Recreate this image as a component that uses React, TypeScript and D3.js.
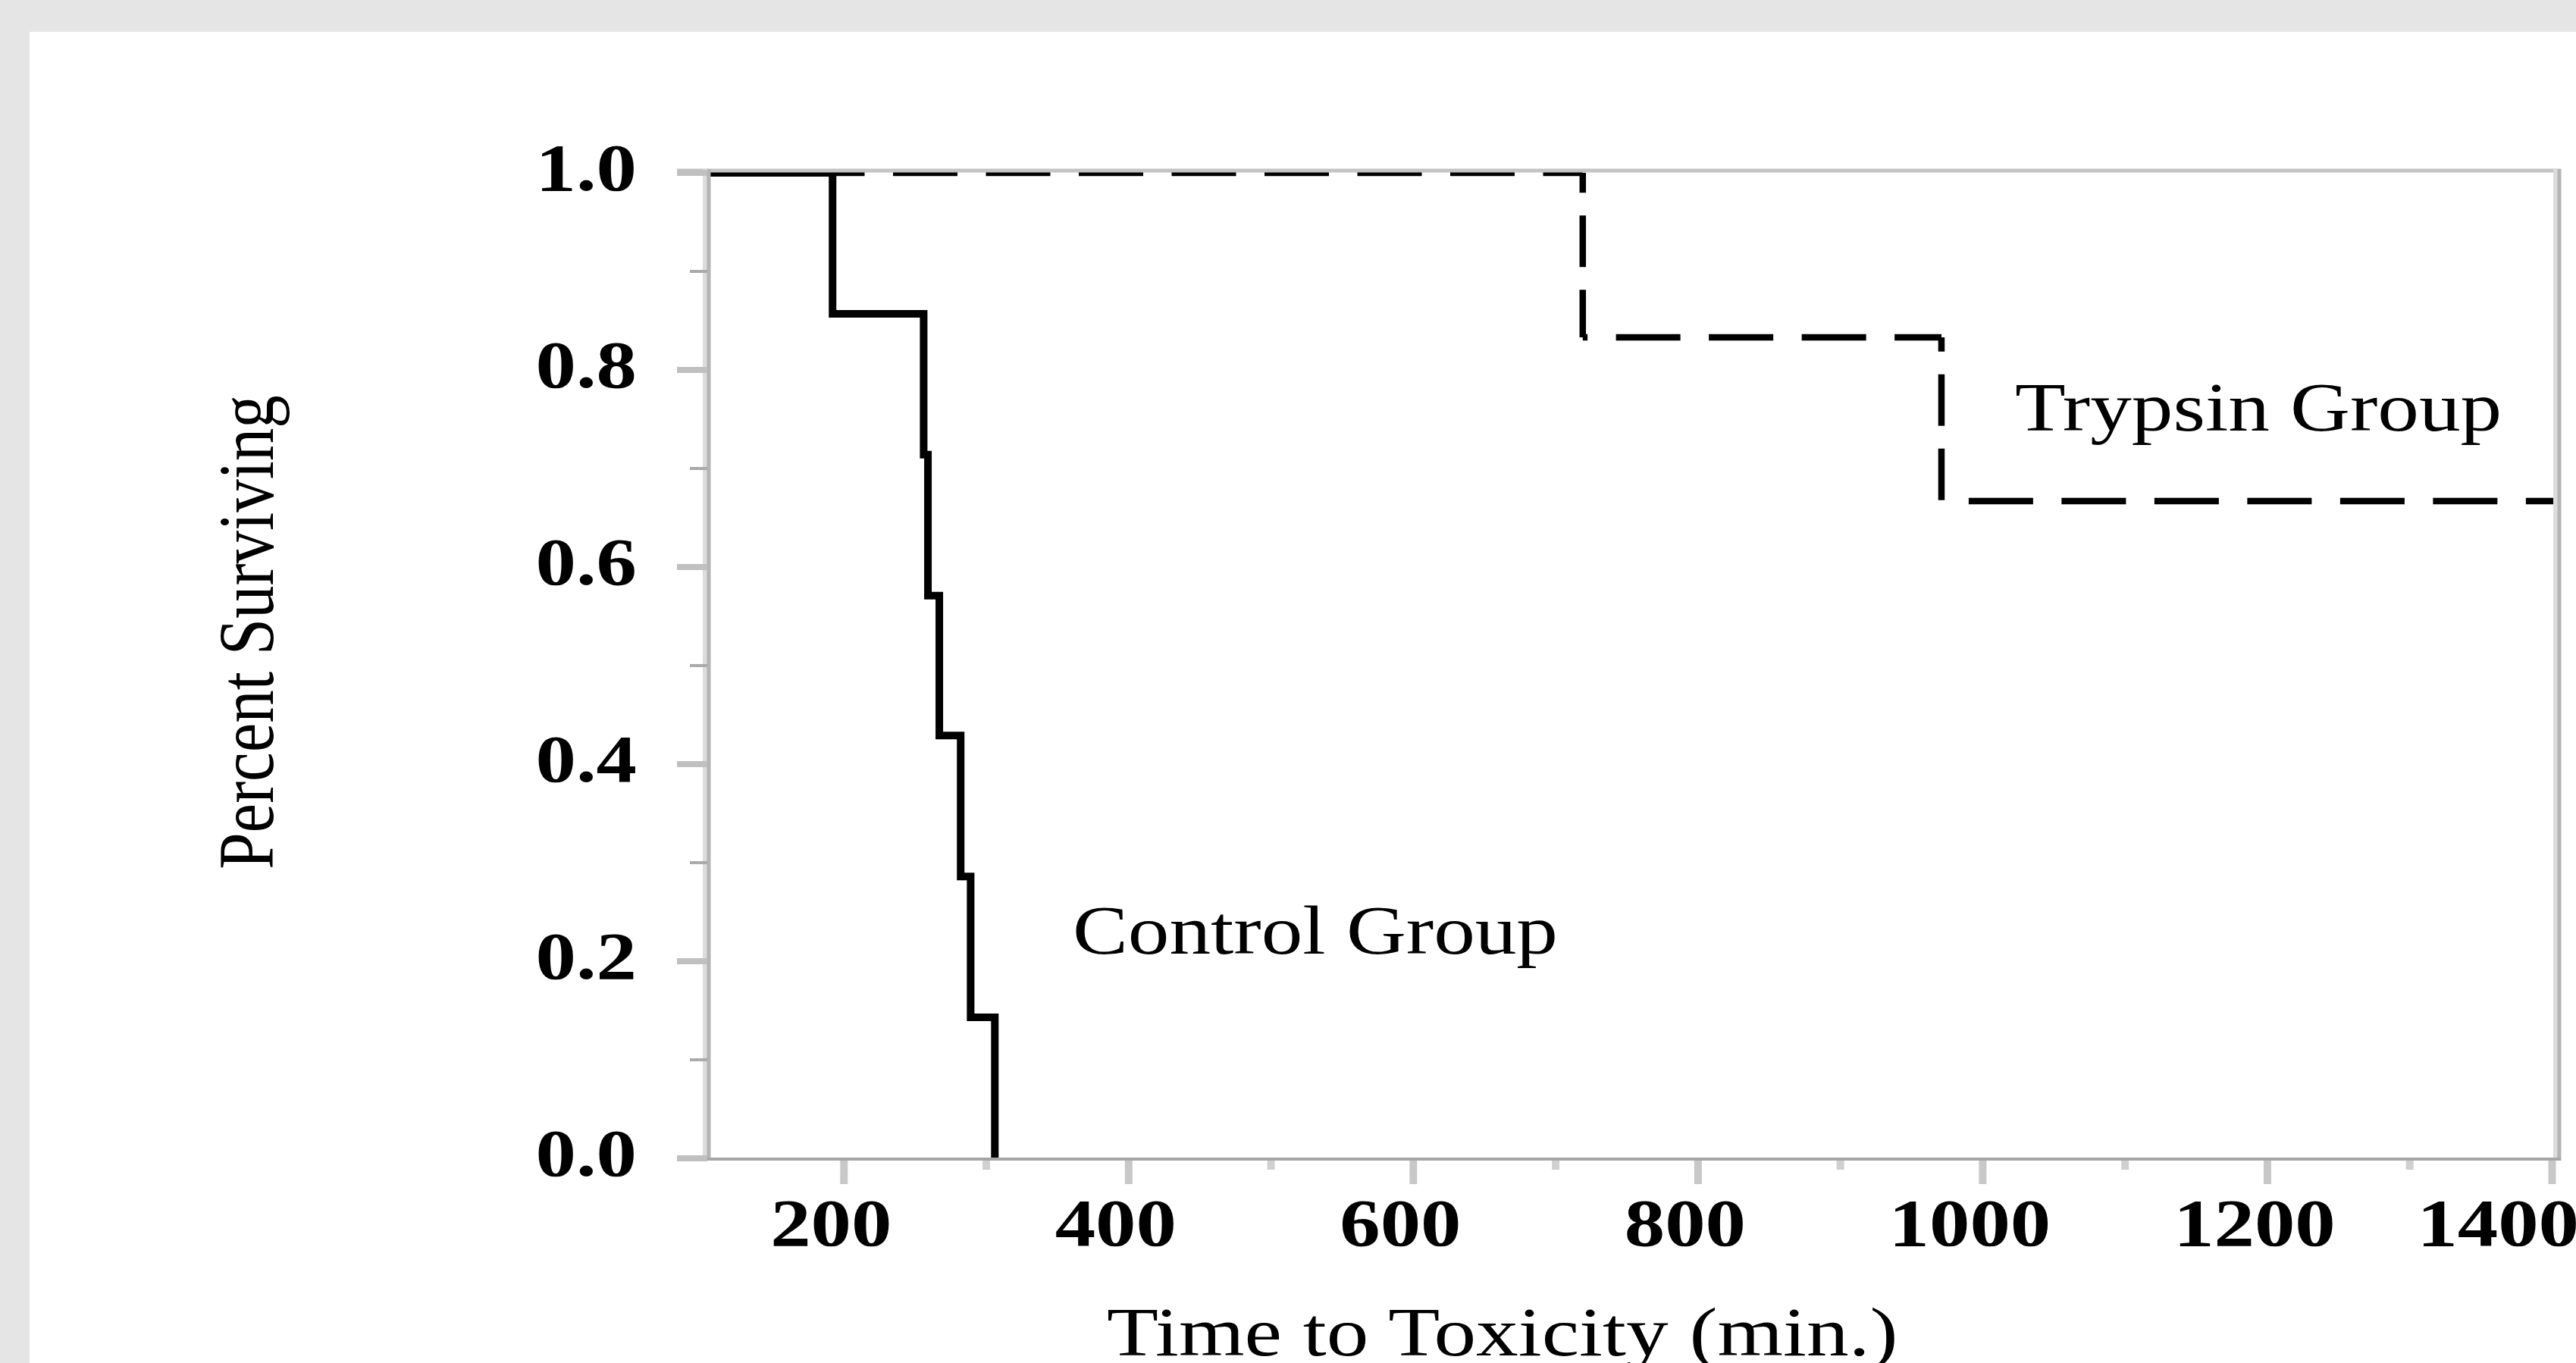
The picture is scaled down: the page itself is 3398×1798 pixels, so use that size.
import React, { useEffect } from "react";
import * as d3 from "d3";

// Kaplan-Meier style step data
const controlTime = [104, 192, 256, 259, 267, 282, 289, 306];
const controlSurv = [1.0, 0.857, 0.714, 0.571, 0.429, 0.286, 0.143, 0.0];

const trypsinTime = [104, 719, 971, 1404];
const trypsinSurv = [1.0, 0.833, 0.667, 0.667];

const xMajor = [200, 400, 600, 800, 1000, 1200, 1400];
const xMinor = [300, 500, 700, 900, 1100, 1300];
const yMajor = [0.0, 0.2, 0.4, 0.6, 0.8, 1.0];
const yMinor = [0.1, 0.3, 0.5, 0.7, 0.9];

const xTitle = "Time to Toxicity (min.)";
const yTitle = "Percent Surviving";
const controlLabel = "Control Group";
const trypsinLabel = "Trypsin Group";

const W = 3398;
const H = 1798;
const margin = { left: 933, right: 3374, top: 228, bottom: 1528 };
const SX = 1.2; // the source picture is stretched sideways a bit
const FONT = "'Liberation Serif', 'Times New Roman', serif";

export default function App() {
  useEffect(() => {
    document.body.style.margin = "0";
  }, []);

  const x = d3.scaleLinear().domain([104, 1404]).range([margin.left, margin.right]);
  const y = d3.scaleLinear().domain([0, 1]).range([margin.bottom, margin.top]);

  const step = d3
    .line<number>()
    .x((d, i) => x(controlTime[i]))
    .y((d) => y(d))
    .curve(d3.curveStepAfter);
  const controlPath = step(controlSurv) || "";

  // trypsin dashed line: split into segments so dash phase follows the stretch
  const pts: [number, number][] = [];
  trypsinTime.forEach((t, i) => {
    if (i > 0) pts.push([x(t), y(trypsinSurv[i - 1])]);
    pts.push([x(t), y(trypsinSurv[i])]);
  });
  const DASH = 68, GAP = 30, HS = 1.25;
  let phase = 0;
  const segs: { x1: number; y1: number; x2: number; y2: number; arr: string; off: number }[] = [];
  for (let i = 1; i < pts.length; i++) {
    const [x1, y1] = pts[i - 1];
    const [x2, y2] = pts[i];
    const horiz = Math.abs(y2 - y1) < 0.01;
    const len = horiz ? Math.abs(x2 - x1) / HS : Math.abs(y2 - y1);
    if (len < 0.01) continue;
    const s = horiz ? HS : 1;
    segs.push({ x1, y1, x2, y2, arr: `${DASH * s},${GAP * s}`, off: phase * s });
    phase += len;
  }

  const txt = (px: number, py: number, rot = 0, sx = SX) =>
    `translate(${px},${py}) scale(${sx},1)${rot ? ` rotate(${rot})` : ""}`;

  return (
    <svg width={W} height={H} style={{ position: "absolute", left: 0, top: 0, display: "block" }}>
      <defs>
        <clipPath id="plot-clip">
          <rect x={margin.left} y={margin.top - 1} width={margin.right - margin.left} height={margin.bottom - margin.top + 1} />
        </clipPath>
      </defs>
      <rect x={0} y={0} width={W} height={H} fill="#e5e5e5" />
      <rect x={39} y={42} width={W - 39} height={H - 42} fill="#ffffff" />

      <g clipPath="url(#plot-clip)">
        <path d={controlPath} fill="none" stroke="#000" strokeWidth={10} strokeLinejoin="miter" />
        {segs.map((s, i) => (
          <line
            key={i}
            x1={s.x1}
            y1={s.y1}
            x2={s.x2}
            y2={s.y2}
            stroke="#000"
            strokeWidth={8.5}
            strokeDasharray={s.arr}
            strokeDashoffset={s.off}
          />
        ))}
      </g>

      {/* frame */}
      <line x1={margin.left - 40} x2={margin.right + 4} y1={margin.top - 3} y2={margin.top - 3} stroke="#c4c4c4" strokeWidth={5} />
      <line x1={margin.right - 3} x2={margin.right - 3} y1={margin.top - 5} y2={margin.bottom} stroke="#dcdcdc" strokeWidth={6} />
      <line x1={margin.right + 2} x2={margin.right + 2} y1={margin.top - 5} y2={margin.bottom + 3} stroke="#b4b4b4" strokeWidth={5} />
      <line x1={margin.left - 3} x2={margin.left - 3} y1={margin.top - 5} y2={margin.bottom} stroke="#dcdcdc" strokeWidth={6} />
      <line x1={margin.left + 2} x2={margin.left + 2} y1={margin.top - 5} y2={margin.bottom + 3} stroke="#b4b4b4" strokeWidth={5} />
      <line x1={margin.left - 40} x2={margin.right + 4} y1={margin.bottom + 1} y2={margin.bottom + 1} stroke="#a6a6a6" strokeWidth={4} />

      {/* y ticks */}
      {yMajor.map((v) => (
        <line key={`ym${v}`} x1={margin.left - 40} x2={margin.left} y1={y(v)} y2={y(v)} stroke="#c0c0c0" strokeWidth={8} />
      ))}
      {yMinor.map((v) => (
        <line key={`yn${v}`} x1={margin.left - 23} x2={margin.left} y1={y(v)} y2={y(v)} stroke="#aaaaaa" strokeWidth={4} />
      ))}
      {/* x ticks */}
      {xMajor.map((v) => (
        <line key={`xm${v}`} x1={x(v)} x2={x(v)} y1={margin.bottom + 3} y2={margin.bottom + 34} stroke="#c8c8c8" strokeWidth={10} />
      ))}
      {xMinor.map((v) => (
        <line key={`xn${v}`} x1={x(v)} x2={x(v)} y1={margin.bottom + 3} y2={margin.bottom + 15} stroke="#d0d0d0" strokeWidth={10} />
      ))}

      {/* tick labels */}
      {yMajor.map((v) => (
        <text
          key={`yl${v}`}
          transform={txt(840, y(v) + 23)}
          textAnchor="end"
          fontFamily={FONT}
          fontWeight="bold"
          fontSize={89}
          fill="#000"
        >
          {v.toFixed(1)}
        </text>
      ))}
      {xMajor.map((v, i) => {
        const last = i === xMajor.length - 1;
        return (
          <text
            key={`xl${v}`}
            transform={txt(last ? W + 4 : x(v) - 17, 1643)}
            textAnchor={last ? "end" : "middle"}
            fontFamily={FONT}
            fontWeight="bold"
            fontSize={89}
            fill="#000"
          >
            {v}
          </text>
        );
      })}

      {/* titles */}
      <text transform={txt(1460, 1788, 0, 1.21)} fontFamily={FONT} fontSize={92} fill="#000">
        {xTitle}
      </text>
      <text transform={txt(360, 834, -90)} textAnchor="middle" fontFamily={FONT} fontSize={87} fill="#000">
        {yTitle}
      </text>

      {/* annotations */}
      <text transform={txt(1415, 1258)} fontFamily={FONT} fontSize={91} fill="#000">
        {controlLabel}
      </text>
      <text transform={txt(2658, 568)} fontFamily={FONT} fontSize={91} fill="#000">
        {trypsinLabel}
      </text>
    </svg>
  );
}
